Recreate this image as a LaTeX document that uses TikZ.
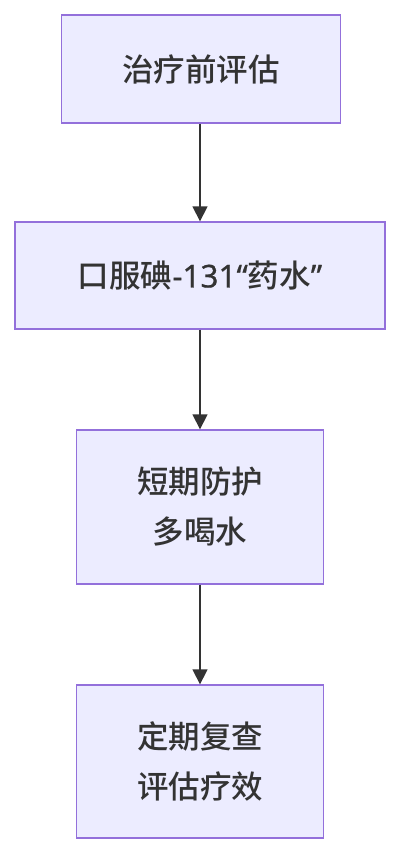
\documentclass[tikz,border=0pt]{standalone}
\usepackage{fontspec}
\usepackage{tikz}
\usepackage{xcolor}
\usetikzlibrary{arrows.meta,positioning}
\newfontfamily\cjk{Noto Sans CJK SC}[UprightFont=* Medium]
\newfontfamily\latin{Noto Sans}[FakeBold=0.6]
\definecolor{boxfill}{HTML}{ECECFF}
\definecolor{boxline}{HTML}{9370DB}
\definecolor{ink}{HTML}{333333}

\begin{document}
\begin{tikzpicture}[x=1pt,y=-1pt,
  stepbox/.style={draw=boxline,line width=1.3pt,fill=boxfill,text=ink,align=center,
    inner sep=0pt,font=\cjk\fontsize{31.5}{50}\selectfont},
  flow/.style={-{Triangle[width=15pt,length=15pt]},line width=1.3pt,draw=ink}]
\useasboundingbox (0,0) rectangle (400,856);
\node[stepbox,minimum width=279pt,minimum height=108pt] (pre) at (201,69) {治疗前评估};
\node[stepbox,minimum width=370pt,minimum height=107pt] (dose) at (200,275.5) {口服碘{\latin-131“}药水{\latin”}};
\node[stepbox,minimum width=247pt,minimum height=154pt] (guard) at (200,507) {短期防护\\多喝水};
\node[stepbox,minimum width=247pt,minimum height=153pt] (check) at (200,761.5) {定期复查\\评估疗效};
\draw[flow] (pre.south -| dose.north) -- (dose.north);
\draw[flow] (dose.south) -- (guard.north);
\draw[flow] (guard.south) -- (check.north);
\end{tikzpicture}
\end{document}
